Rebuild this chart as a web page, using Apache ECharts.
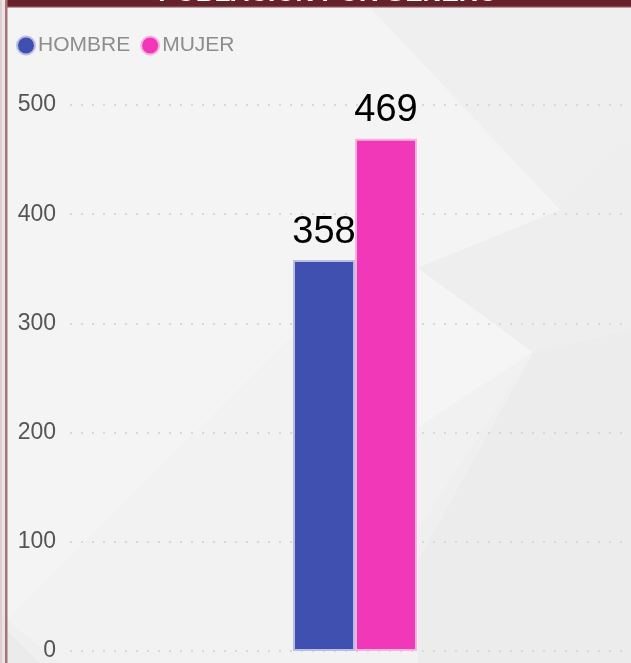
<!DOCTYPE html>
<html>
<head>
<meta charset="utf-8">
<script src="https://cdn.jsdelivr.net/npm/echarts@6/dist/echarts.min.js"></script>
<style>
  html, body { margin: 0; padding: 0; background: #efefef; }
  #chart { width: 631px; height: 663px; }
</style>
</head>
<body>
<div id="chart"></div>
<script>
// Población por sexo
const categories = ['Total'];
const seriesNames = ['HOMBRE', 'MUJER'];
const hombreValues = [358];
const mujerValues = [469];
const yTicks = [0, 100, 200, 300, 400, 500];
const titleText = 'POBLACIÓN POR GÉNERO';

const chart = echarts.init(document.getElementById('chart'), null, { renderer: 'canvas' });

const FONT = '"Liberation Sans", Arial, sans-serif';

// soft faceted backdrop
const backdrop = [
  { type: 'rect', shape: { x: 7, y: 7, width: 624, height: 656 }, style: { fill: '#efefef' } },
  { type: 'polygon', shape: { points: [[7, 7], [370, 7], [560, 210], [418, 268], [300, 330], [7, 620]] }, style: { fill: '#f4f4f4' } },
  { type: 'polygon', shape: { points: [[7, 620], [300, 330], [418, 268], [418, 663], [60, 663]] }, style: { fill: '#f2f2f2' } },
  { type: 'polygon', shape: { points: [[418, 268], [533, 352], [418, 428]] }, style: { fill: '#f5f5f5' } },
  { type: 'polygon', shape: { points: [[533, 352], [418, 428], [418, 530]] }, style: { fill: '#f1f1f1' } },
  { type: 'polygon', shape: { points: [[530, 356], [539, 358], [428, 560], [418, 560]] }, style: { fill: '#f4f4f4' } },
  { type: 'polygon', shape: { points: [[533, 352], [631, 330], [631, 663], [418, 663], [418, 560]] }, style: { fill: '#ececec' } },
  { type: 'polygon', shape: { points: [[560, 210], [631, 140], [631, 330], [533, 352], [418, 268]] }, style: { fill: '#eeeeee' } },
  { type: 'polygon', shape: { points: [[7, 630], [40, 663], [7, 663]] }, style: { fill: '#ebebeb' } }
].map(function (el) { return Object.assign({ z: -10, silent: true }, el); });

// frame: header band and left edge
const frame = [
  { type: 'rect', shape: { x: 7, y: 0, width: 624, height: 6 }, style: { fill: '#66212a' } },
  { type: 'rect', shape: { x: 7, y: 6, width: 624, height: 1.5 }, style: { fill: '#84464c' } },
  { type: 'rect', shape: { x: 0, y: 0, width: 2, height: 663 }, style: { fill: '#dccfcf' } },
  { type: 'rect', shape: { x: 2, y: 0, width: 3, height: 663 }, style: { fill: '#ece4e4' } },
  { type: 'rect', shape: { x: 5, y: 0, width: 2.5, height: 663 }, style: { fill: '#a67474' } },
  {
    type: 'text',
    style: {
      x: 328, y: 7, text: titleText, fill: '#ffffff',
      font: 'bold 26px ' + FONT, textAlign: 'center', textVerticalAlign: 'bottom'
    }
  }
].map(function (el) { return Object.assign({ z: 50, silent: true }, el); });

const option = {
  backgroundColor: 'transparent',
  animation: false,
  graphic: backdrop.concat(frame),
  legend: {
    left: 16,
    top: 35,
    padding: 0,
    icon: 'circle',
    itemWidth: 18,
    itemHeight: 18,
    itemGap: 10,
    textStyle: { fontFamily: FONT, fontSize: 21, color: '#8d8d8d', padding: [0, 0, 0, -2] },
    data: seriesNames
  },
  grid: { left: 70, right: -9, top: 105, bottom: 12, containLabel: false, outerBoundsMode: 'none' },
  xAxis: {
    type: 'category',
    data: categories,
    axisLine: { show: false },
    axisTick: { show: false },
    axisLabel: { show: false }
  },
  yAxis: {
    type: 'value',
    min: yTicks[0],
    max: yTicks[yTicks.length - 1],
    interval: yTicks[1] - yTicks[0],
    axisLine: { show: false },
    axisTick: { show: false },
    axisLabel: { fontFamily: FONT, fontSize: 23, color: '#555555', margin: 14 },
    splitLine: { lineStyle: { color: '#d8d8d8', width: 2, type: [2, 9] } }
  },
  series: [
    {
      name: seriesNames[0],
      type: 'bar',
      data: hombreValues,
      barWidth: 62,
      barGap: '0%',
      itemStyle: { color: '#4050b0', borderColor: '#b9bde2', borderWidth: 2 },
      label: { show: true, position: 'top', distance: 9, fontFamily: FONT, fontSize: 38, color: '#000000' }
    },
    {
      name: seriesNames[1],
      type: 'bar',
      data: mujerValues,
      barWidth: 62,
      barGap: '0%',
      itemStyle: { color: '#f038b8', borderColor: '#f5b3de', borderWidth: 2 },
      label: { show: true, position: 'top', distance: 9, fontFamily: FONT, fontSize: 38, color: '#000000' }
    }
  ]
};

chart.setOption(option);
</script>
</body>
</html>
